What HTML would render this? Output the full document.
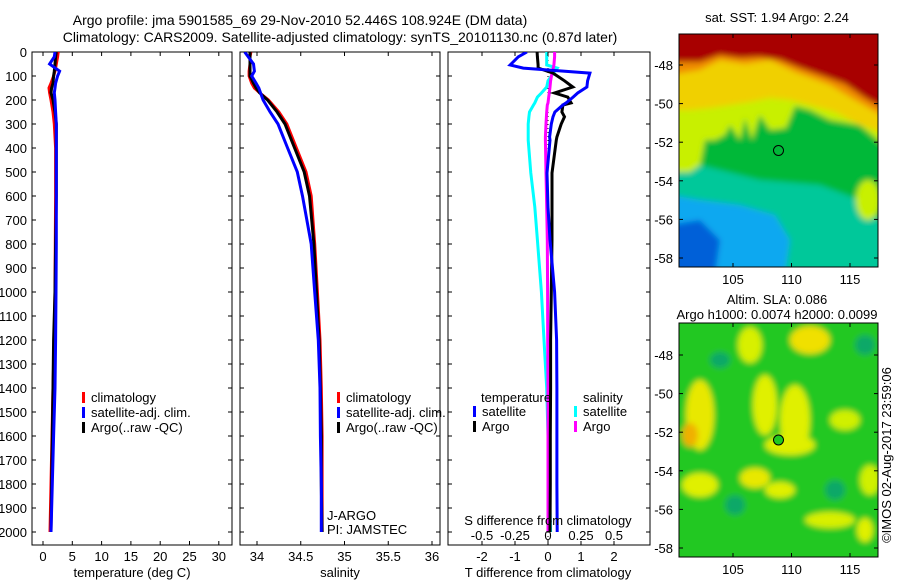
<!DOCTYPE html>
<html><head><meta charset="utf-8"><style>
body{margin:0;background:#fff;width:900px;height:580px;overflow:hidden}
svg{font-family:"Liberation Sans",sans-serif;font-size:13px}
</style></head><body>
<svg id="chart" width="900" height="580" viewBox="0 0 900 580">
<defs>
<clipPath id="c1"><rect x="32" y="52" width="200" height="493"/></clipPath>
<clipPath id="c2"><rect x="240" y="52" width="200" height="493"/></clipPath>
<clipPath id="c3"><rect x="448" y="52" width="202" height="493"/></clipPath>
<clipPath id="m1"><rect x="679" y="34" width="199" height="233"/></clipPath>
<clipPath id="m2"><rect x="679" y="323" width="199" height="234"/></clipPath>
<filter id="bl" x="-10%" y="-10%" width="120%" height="120%"><feGaussianBlur stdDeviation="3"/></filter>
</defs>
<text x="300" y="25" text-anchor="middle" style="font-size:14px">Argo profile: jma 5901585_69 29-Nov-2010 52.446S 108.924E (DM data)</text>
<text x="340" y="42" text-anchor="middle" style="font-size:14px">Climatology: CARS2009. Satellite-adjusted climatology: synTS_20101130.nc (0.87d later)</text>

<g id="p1"></g>
<g id="p2"></g>
<g id="p3"></g>

<g>
<g clip-path="url(#m1)"><g filter="url(#bl)">
<rect x="670" y="25" width="220" height="250" fill="#00b838"/>
<polygon points="670,160 700,165 760,180 820,185 860,200 890,230 890,275 670,275" fill="#00c89a"/>
<polygon points="670,195 700,200 740,205 775,215 790,240 785,275 670,275" fill="#10a8f0"/>
<polygon points="670,225 700,220 720,240 715,275 670,275" fill="#0060d8"/>
<polygon points="670,25 890,25 890,150 860,125 830,120 810,110 795,106 786,128 770,130 760,115 752,140 745,118 740,140 730,125 725,135 715,140 705,140 700,165 690,172 670,172" fill="#c8f000"/>
<polygon points="670,25 890,25 890,135 860,125 835,112 810,105 790,100 770,98 750,102 730,105 710,108 690,110 670,110" fill="#f0d000"/>
<polygon points="670,25 890,25 890,120 855,100 830,85 795,72 770,60 745,64 720,60 700,70 670,75" fill="#f08c00"/>
<polygon points="670,25 890,25 890,112 865,98 845,84 820,75 800,68 780,60 760,57 740,58 720,55 700,62 670,62" fill="#a80000"/>
<ellipse cx="868" cy="200" rx="12" ry="20" fill="#c8f000"/>
</g></g>
<rect x="679" y="34" width="199" height="233" fill="none" stroke="#000"/>
<circle cx="778.5" cy="150.5" r="5" fill="none" stroke="#000"/>
</g>
<g>
<g clip-path="url(#m2)"><g filter="url(#bl)">
<rect x="670" y="315" width="220" height="250" fill="#20c820"/>
<ellipse cx="810" cy="340" rx="20" ry="14" fill="#f0e000"/>
<ellipse cx="750" cy="345" rx="12" ry="18" fill="#d8f000"/>
<ellipse cx="700" cy="415" rx="14" ry="35" fill="#e8e800"/>
<ellipse cx="690" cy="435" rx="8" ry="12" fill="#f0b000"/>
<ellipse cx="765" cy="405" rx="12" ry="30" fill="#e0f000"/>
<ellipse cx="795" cy="420" rx="15" ry="35" fill="#e0f000"/>
<ellipse cx="790" cy="445" rx="25" ry="10" fill="#e0f000"/>
<ellipse cx="755" cy="478" rx="15" ry="10" fill="#e8e800"/>
<ellipse cx="700" cy="485" rx="18" ry="12" fill="#e0f000"/>
<ellipse cx="780" cy="490" rx="15" ry="8" fill="#e0f000"/>
<ellipse cx="830" cy="520" rx="25" ry="8" fill="#d8f000"/>
<ellipse cx="865" cy="530" rx="8" ry="12" fill="#e0f000"/>
<ellipse cx="845" cy="420" rx="15" ry="10" fill="#d0f000"/>
<ellipse cx="870" cy="480" rx="10" ry="15" fill="#d0f000"/>
<ellipse cx="720" cy="360" rx="10" ry="8" fill="#10a868"/>
<ellipse cx="865" cy="345" rx="10" ry="10" fill="#10a868"/>
<ellipse cx="835" cy="490" rx="10" ry="10" fill="#10a868"/>
<ellipse cx="735" cy="505" rx="10" ry="10" fill="#10a868"/>
</g></g>
<rect x="679" y="323" width="199" height="234" fill="none" stroke="#000"/>
<circle cx="778.5" cy="440" r="5" fill="#20c820" stroke="#000"/>
</g>
<text x="777" y="22" text-anchor="middle">sat. SST: 1.94 Argo: 2.24</text>
<text x="777" y="304" text-anchor="middle">Altim. SLA: 0.086</text>
<text x="777" y="319" text-anchor="middle">Argo h1000: 0.0074 h2000: 0.0099</text>
<text transform="translate(891,455) rotate(-90)" text-anchor="middle">©IMOS 02-Aug-2017 23:59:06</text>
<g id="maxes"></g>
</svg>
<script>
const depths=[0,20,50,80,100,130,150,170,200,250,300,400,500,600,800,1000,1200,1400,1600,1800,2000];
const tClim=[2.6,2.5,2.27,2.04,1.81,1.36,1.02,1.13,1.36,1.7,1.93,2.15,2.15,2.15,2.1,2.04,1.93,1.7,1.53,1.36,1.19];
const tSat=[2.04,1.93,1.13,2.83,2.49,2.15,2.04,1.93,2.04,2.15,2.27,2.27,2.27,2.27,2.27,2.21,2.15,2.04,1.81,1.59,1.36];
const tArgo=[2.27,2.15,2.04,1.93,1.81,1.7,1.47,1.36,1.7,2.04,2.27,2.27,2.27,2.27,2.15,2.04,1.81,1.7,1.59,1.47,1.36];
const sClim=[33.93,33.92,33.92,33.91,33.91,33.94,33.97,34.03,34.13,34.25,34.34,34.45,34.56,34.62,34.66,34.69,34.72,34.735,34.744,34.744,34.744];
const sSat=[33.86,33.9,33.96,33.97,33.94,33.99,34.02,34.04,34.07,34.15,34.24,34.35,34.46,34.52,34.62,34.66,34.7,34.72,34.725,34.735,34.735];
const sArgo=[33.92,33.92,33.92,33.92,33.92,33.96,33.99,34.03,34.12,34.23,34.32,34.43,34.54,34.6,34.65,34.68,34.71,34.725,34.735,34.735,34.744];
const dDepths=[0,20,54,67,88,120,146,171,188,212,221,250,270,300,354,367,504,646,783,1000,1200,1400,1600,1800,2000];
const dtSat=[-0.64,-0.9,-1.15,-0.75,1.27,1.2,1.18,0.9,0.76,0.55,0.45,0.21,0.15,0.1,0.05,0.06,-0.03,0.0,0.06,0.2,0.26,0.27,0.27,0.27,0.28];
const dtArgo=[-0.33,-0.32,-0.3,-0.3,0.15,0.5,0.75,0.2,0.6,0.7,0.45,0.42,0.5,0.4,0.27,0.25,0.12,0.12,0.12,0.1,0.08,0.08,0.07,0.07,0.06];
const dsSat=[-0.01,-0.01,-0.01,0.07,0.04,0.0,-0.01,-0.05,-0.08,-0.1,-0.11,-0.14,-0.145,-0.15,-0.15,-0.15,-0.13,-0.1,-0.08,-0.05,-0.03,-0.01,0.0,0.01,0.02];
const dsArgo=[0.05,0.05,0.045,0.04,0.03,0.02,0.015,0.01,0.005,0.0,-0.005,-0.01,-0.012,-0.015,-0.02,-0.02,-0.015,-0.01,-0.005,-0.003,-0.002,0,0,0,0];
const yTicks=[0,100,200,300,400,500,600,700,800,900,1000,1100,1200,1300,1400,1500,1600,1700,1800,1900,2000];
const tTicks=[0,5,10,15,20,25,30];
const sTicks=[34,34.5,35,35.5,36];
const dtTicks=[-2,-1,0,1,2];
const dsTicks=[-0.5,-0.25,0,0.25,0.5];
const latTicks=[-48,-50,-52,-54,-56,-58];
const lonTicks=[105,110,115];

const NS='http://www.w3.org/2000/svg';
const svg=document.getElementById('chart');
function el(tag,attrs,parent,txt){const e=document.createElementNS(NS,tag);for(const k in attrs)e.setAttribute(k,attrs[k]);if(txt!==undefined)e.textContent=txt;(parent||svg).appendChild(e);return e;}
const yD=d=>52+d*0.24;
const xT=t=>43+t*5.86;
const xS=s=>257+(s-34)*87.5;
const xDT=v=>548+v*33;
const xDS=v=>548+v*132;

function box(g,x0,x1,name){
  const r=el('rect',{x:x0,y:52,width:x1-x0,height:493,fill:'none',stroke:'#000'},g);
  
  
  yTicks.forEach(v=>{const y=yD(v);
    el('line',{x1:x0,x2:x0+4,y1:y,y2:y,stroke:'#000'},g);
    el('line',{x1:x1,x2:x1-4,y1:y,y2:y,stroke:'#000'},g);});
}
function line(g,xs,ys,xf,color,clip,name){
  const pts=xs.map((v,i)=>xf(v).toFixed(1)+','+yD(ys[i]).toFixed(1)).join(' ');
  const p=el('polyline',{points:pts,fill:'none',stroke:color,'stroke-width':3,'clip-path':'url(#'+clip+')'},g);
  
  
}
function xticks(g,ticks,xf,y){
  ticks.forEach(v=>{const x=xf(v);
    el('line',{x1:x,x2:x,y1:545,y2:541,stroke:'#000'},g);
    el('line',{x1:x,x2:x,y1:52,y2:56,stroke:'#000'},g);
    const t=el('text',{x:x,y:y,'text-anchor':'middle'},g,String(v));
    
    });
}
function legend(g,x,y,items){
  items.forEach((it,i)=>{
    el('rect',{x:x,y:y+i*15-10,width:3,height:11,fill:it[0]},g);
    const t=el('text',{x:x+9,y:y+i*15},g,it[1]);
    
    });
}
// panel 1
const g1=document.getElementById('p1');
box(g1,32,232,'temperature-panel');
yTicks.forEach(v=>{const t=el('text',{x:27,y:yD(v)+5,'text-anchor':'end'},g1,String(v));
  
  });
line(g1,tClim,depths,xT,'#f00','c1','temp-climatology-line');
line(g1,tArgo,depths,xT,'#000','c1','temp-argo-line');
line(g1,tSat,depths,xT,'#00f','c1','temp-satellite-line');
xticks(g1,tTicks,xT,561);
let t=el('text',{x:132,y:577,'text-anchor':'middle'},g1,'temperature (deg C)');


legend(g1,82,402,[['#f00','climatology'],['#00f','satellite-adj. clim.'],['#000','Argo(..raw -QC)']]);
// panel 2
const g2=document.getElementById('p2');
box(g2,240,440,'salinity-panel');
line(g2,sClim,depths,xS,'#f00','c2','sal-climatology-line');
line(g2,sArgo,depths,xS,'#000','c2','sal-argo-line');
line(g2,sSat,depths,xS,'#00f','c2','sal-satellite-line');
xticks(g2,sTicks,xS,561);
t=el('text',{x:340,y:577,'text-anchor':'middle'},g2,'salinity');


legend(g2,337,402,[['#f00','climatology'],['#00f','satellite-adj. clim.'],['#000','Argo(..raw -QC)']]);
t=el('text',{x:327,y:520},g2,'J-ARGO');


t=el('text',{x:327,y:534},g2,'PI: JAMSTEC');


// panel 3
const g3=document.getElementById('p3');
box(g3,448,650,'difference-panel');
el('line',{x1:548,x2:548,y1:52,y2:545,stroke:'#000','stroke-dasharray':'1,3'},g3);
line(g3,dsSat,dDepths,xDS,'#0ff','c3','sal-diff-satellite-line');
line(g3,dsArgo,dDepths,xDS,'#f0f','c3','sal-diff-argo-line');
line(g3,dtArgo,dDepths,xDT,'#000','c3','temp-diff-argo-line');
line(g3,dtSat,dDepths,xDT,'#00f','c3','temp-diff-satellite-line');
dtTicks.forEach(v=>{const x=xDT(v);
  el('line',{x1:x,x2:x,y1:545,y2:541,stroke:'#000'},g3);
  el('line',{x1:x,x2:x,y1:52,y2:56,stroke:'#000'},g3);
  const tt=el('text',{x:x,y:561,'text-anchor':'middle'},g3,String(v));
  
  });
dsTicks.forEach(v=>{const tt=el('text',{x:xDS(v),y:540,'text-anchor':'middle'},g3,String(v));
  
  });
t=el('text',{x:548,y:525,'text-anchor':'middle'},g3,'S difference from climatology');


t=el('text',{x:548,y:577,'text-anchor':'middle'},g3,'T difference from climatology');


t=el('text',{x:481,y:402},g3,'temperature');


t=el('text',{x:583,y:402},g3,'salinity');


legend(g3,473,416,[['#00f','satellite'],['#000','Argo']]);
legend(g3,574,416,[['#0ff','satellite'],['#f0f','Argo']]);
// map axes
const gm=document.getElementById('maxes');
[[34,267,65],[323,557,355]].forEach(([top,bot,y48])=>{
  latTicks.forEach(v=>{const y=y48+(-48-v)*19.3;
    el('line',{x1:679,x2:683,y1:y,y2:y,stroke:'#000'},gm);
    el('line',{x1:878,x2:874,y1:y,y2:y,stroke:'#000'},gm);
    const tt=el('text',{x:673,y:y+5,'text-anchor':'end'},gm,String(v));
    
    });
  lonTicks.forEach(v=>{const x=733+(v-105)*11.7;
    el('line',{x1:x,x2:x,y1:bot,y2:bot-4,stroke:'#000'},gm);
    el('line',{x1:x,x2:x,y1:top,y2:top+4,stroke:'#000'},gm);
    const tt=el('text',{x:x,y:bot+17,'text-anchor':'middle'},gm,String(v));
    
    });
});
</script>
</body></html>
